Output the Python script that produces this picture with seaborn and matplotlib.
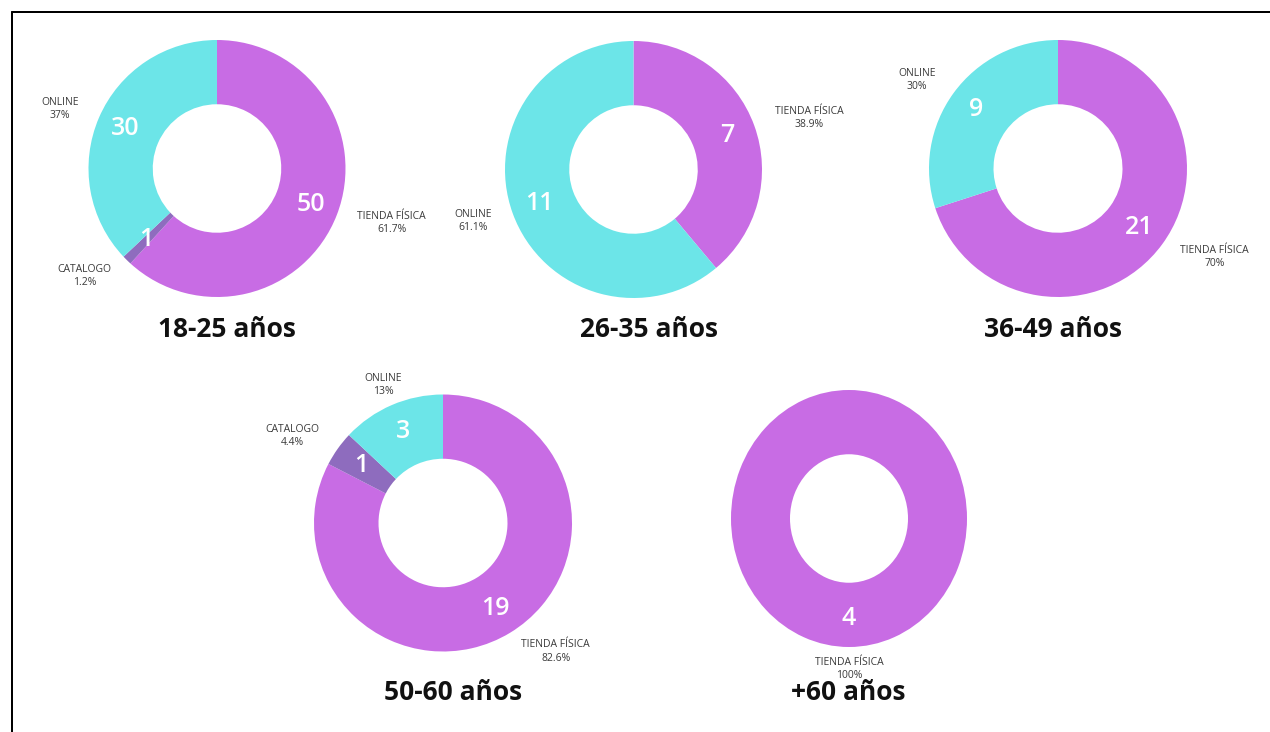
import numpy as np
import matplotlib
matplotlib.use("Agg")
import matplotlib.pyplot as plt
from matplotlib.lines import Line2D
import seaborn as sns

sns.set_theme(style="white")
plt.rcParams["font.family"] = ["Open Sans", "DejaVu Sans"]

# Purchase channel by age group
age_groups = ["18-25 años", "26-35 años", "36-49 años", "50-60 años", "+60 años"]
channels = ["TIENDA FÍSICA", "CATALOGO", "ONLINE"]

tienda_counts = [50, 7, 21, 19, 4]
catalogo_counts = [1, 0, 0, 1, 0]
online_counts = [30, 11, 9, 3, 0]

tienda_pct = [61.7, 38.9, 70, 82.6, 100]
catalogo_pct = [1.2, 0, 0, 4.4, 0]
online_pct = [37, 61.1, 30, 13, 0]

palette = dict(zip(channels, sns.color_palette(["#C86CE4", "#8E6CBE", "#6CE5E8"])))

W, H = 1270, 732
fig = plt.figure(figsize=(W / 100, H / 100), dpi=100)
fig.patch.set_facecolor("white")

# donut centre (x, y) and radii (rx, ry) in pixels, plus title centre (x, y)
layout = [
    (217, 168.5, 128.5, 128.5, 226.5, 330),
    (633.5, 169.5, 128.5, 128.5, 649.5, 330),
    (1058, 168.5, 129, 128.5, 1053, 330),
    (443, 523, 129, 128.5, 453.5, 693),
    (849, 518.5, 118, 128.5, 848, 693),
]

for i, group in enumerate(age_groups):
    cx, cy, rx, ry, tx, ty = layout[i]
    ax = fig.add_axes([(cx - rx) / W, 1 - (cy + ry) / H, 2 * rx / W, 2 * ry / H])
    counts = [tienda_counts[i], catalogo_counts[i], online_counts[i]]
    pcts = [tienda_pct[i], catalogo_pct[i], online_pct[i]]
    keep = [j for j in range(3) if counts[j] > 0]
    wedges, _ = ax.pie(
        [pcts[j] for j in keep],
        colors=[palette[channels[j]] for j in keep],
        startangle=90,
        counterclock=False,
        radius=1,
        wedgeprops=dict(width=0.5, linewidth=0),
    )
    ax.set_xlim(-1, 1)
    ax.set_ylim(-1, 1)
    ax.set_aspect("auto")
    ax.axis("off")

    for w, j in zip(wedges, keep):
        mid = np.deg2rad((w.theta1 + w.theta2) / 2)
        c, s = np.cos(mid), np.sin(mid)
        ax.text(0.78 * c, 0.78 * s, str(counts[j]), ha="center", va="center",
                color="white", fontsize=18, fontweight="semibold")
        ha = "center" if abs(c) < 0.5 else ("left" if c > 0 else "right")
        ax.text(1.17 * c, 1.17 * s, f"{channels[j]}\n{pcts[j]:g}%", ha=ha, va="center",
                multialignment="center", fontsize=7.5, color="#3a3a3a",
                linespacing=1.3, clip_on=False)

    fig.text(tx / W, 1 - ty / H, group, ha="center", va="center",
             fontsize=19, fontweight="bold", color="#111111")

# frame
lw = 2 * 72 / 100
fig.add_artist(Line2D([12 / W, 1.02], [1 - 12 / H, 1 - 12 / H], color="black", lw=lw))
fig.add_artist(Line2D([12 / W, 12 / W], [1 - 12 / H, -0.02], color="black", lw=lw))

fig.savefig("out.png", dpi=100, facecolor="white")
